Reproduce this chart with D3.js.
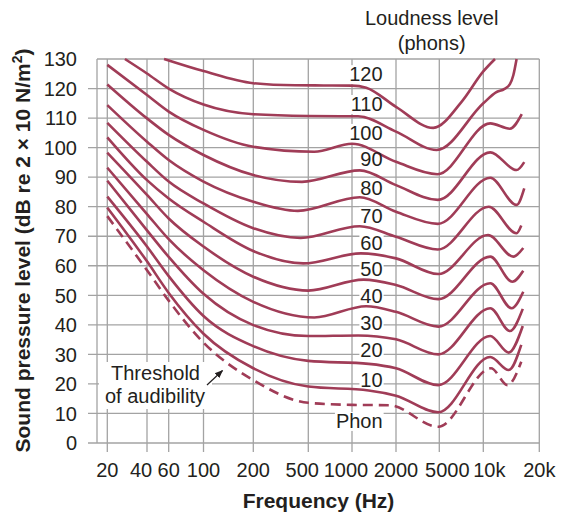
<!DOCTYPE html>
<html>
<head>
<meta charset="utf-8">
<script src="https://cdn.jsdelivr.net/npm/d3@7"></script>
<style>
  body { margin: 0; background: #fff; }
  text { font-family: "Liberation Sans", Arial, Helvetica, sans-serif; fill: #231f20; }
</style>
</head>
<body>
<svg width="567" height="515"></svg>
<script>
// axis ticks
var freqTicks = [20, 40, 60, 100, 200, 500, 1000, 2000, 5000, 10000, 20000];
var freqTickLabels = ['20', '40', '60', '100', '200', '500', '1000', '2000', '5000', '10k', '20k'];
var dbTicks = [0, 10, 20, 30, 40, 50, 60, 70, 80, 90, 100, 110, 120, 130];

// equal loudness contours, [frequency Hz, dB]
var phon120 = [[55,130],[100,125.9],[200,121.8],[400,121.1],[1000,121],[1250,120.3],[2000,113.8],[4400,106.7],[7100,115.5],[10000,125.8],[11560,130]];
var phon110 = [[27.2,130],[40,125.1],[60,120],[100,114.6],[200,111.3],[500,110.7],[1100,110.6],[2000,105.4],[4730,99.2],[10000,115],[11700,118.7],[13000,119.9],[13900,121.5],[14500,124.5],[15100,130]];
var phon100 = [[20,128],[40,117.8],[60,112.2],[100,106],[200,100.3],[550,98.6],[1000,101.3],[2000,95.2],[4800,91],[10900,108.2],[13900,106.4],[16100,111.3]];
var phon90 = [[20,121.4],[40,109.9],[60,104.3],[100,97.5],[200,90.7],[450,88.4],[1130,92.3],[2000,87.3],[4850,82.3],[10900,98.4],[15100,92.4],[16600,95.1]];
var phon80 = [[20,114.4],[40,102],[60,95.8],[100,88.5],[200,81.7],[420,78.6],[1130,83.2],[2000,78.3],[4850,74.2],[10900,89.8],[15100,80.6],[16600,86.2]];
var phon70 = [[20,108.4],[40,95.2],[60,88.5],[100,81.1],[200,72.7],[440,69.4],[1130,73.4],[2000,69.8],[4850,65.5],[10700,80],[15100,71],[16000,73.6]];
var phon60 = [[20,103.5],[40,89],[60,82.8],[100,74.9],[200,65],[460,60.8],[1150,64.2],[2000,62.5],[4900,57.2],[10600,70.4],[14500,63.1],[16400,66]];
var phon50 = [[20,98.3],[40,84],[60,76],[100,66.5],[200,56.3],[500,51.6],[1200,55.3],[2000,53.5],[4900,48.7],[10900,63.1],[14300,54.6],[16400,58.3]];
var phon40 = [[20,93.2],[40,77.5],[60,69],[100,58.5],[200,47.8],[550,42.5],[1250,46.3],[2000,44.4],[4900,39.4],[10900,54.1],[14200,45.6],[16400,51.2]];
var phon30 = [[20,88.8],[40,72],[60,63],[100,50.5],[200,39.9],[500,36.2],[1100,36.4],[2000,35.1],[4900,30],[10900,45.6],[13900,37.9],[16300,45.4]];
var phon20 = [[20,83.4],[40,66.5],[60,56.5],[100,43],[200,32.8],[500,27.8],[1300,26.8],[2000,25.3],[4900,19.6],[10900,36.2],[13700,30.6],[16300,39.6]];
var phon10 = [[20,79.7],[40,61.5],[60,50.8],[100,37],[200,25.3],[500,19.1],[1300,17.8],[2000,16],[4900,10.4],[10900,29.1],[13700,24.7],[16000,33.2]];
var threshold = [[20,76.8],[40,58.5],[60,48.2],[100,34],[200,21.3],[500,13.6],[1000,12.9],[1800,12.8],[4900,5.5],[11000,25.3],[13500,19.6],[16000,27.5]];

var contours = [phon120, phon110, phon100, phon90, phon80, phon70, phon60, phon50, phon40, phon30, phon20, phon10];

// curve labels and the dB level of their baselines
var curveLabels = ['120', '110', '100', '90', '80', '70', '60', '50', '40', '30', '20', '10', 'Phon'];
var curveLabelDb = [122.5, 112.4, 102.6, 93.8, 84, 74.5, 65.3, 56.5, 47.4, 38.3, 29.1, 19, 5.1];

var svg = d3.select('svg');
var lineColor = '#a03c57';
var gridColor = '#a3a3a3';

// the printed grid is not a true log grid, so map tick to tick
var x = d3.scaleLog()
    .domain(freqTicks)
    .range([107.3, 147, 168.7, 203.5, 253.3, 308.3, 352, 396, 439.3, 483.3, 539.3]);
var y = d3.scaleLinear().domain([0, 130]).range([443, 59]);
var left = 97;

var gridG = svg.append('g');
var bgG = svg.append('g');
var curveG = svg.append('g');
var textG = svg.append('g');

// horizontal grid (with tick stubs to the left)
gridG.selectAll('.hgrid')
    .data(dbTicks)
    .enter()
    .append('line')
    .attr('x1', function(d) { return d === 130 ? left : left - 9; })
    .attr('x2', x(20000))
    .attr('y1', function(d) { return y(d); })
    .attr('y2', function(d) { return y(d); })
    .attr('stroke', gridColor)
    .attr('stroke-width', 1.3);

// vertical grid (with tick stubs below)
gridG.selectAll('.vgrid')
    .data(freqTicks)
    .enter()
    .append('line')
    .attr('x1', function(d) { return x(d); })
    .attr('x2', function(d) { return x(d); })
    .attr('y1', y(130))
    .attr('y2', y(0) + 9)
    .attr('stroke', gridColor)
    .attr('stroke-width', 1.3);

gridG.append('line')
    .attr('x1', left).attr('x2', left)
    .attr('y1', y(130)).attr('y2', y(0))
    .attr('stroke', gridColor)
    .attr('stroke-width', 1.3);

// tick labels
textG.selectAll('.ylab')
    .data(dbTicks)
    .enter()
    .append('text')
    .attr('x', 77)
    .attr('y', function(d) { return y(d) + 7.2; })
    .attr('text-anchor', 'end')
    .style('font-size', '20px')
    .text(function(d) { return d; });

var labelNudge = { '40': -6, '500': -6, '1000': -6, '5000': 8, '10k': 6 };
textG.selectAll('.xlab')
    .data(freqTicks)
    .enter()
    .append('text')
    .attr('x', function(d, i) { return x(d) + (labelNudge[freqTickLabels[i]] || 0); })
    .attr('y', 477)
    .attr('text-anchor', 'middle')
    .style('font-size', '20px')
    .text(function(d, i) { return freqTickLabels[i]; });

// axis titles
textG.append('text')
    .attr('x', 318.5)
    .attr('y', 508)
    .attr('text-anchor', 'middle')
    .style('font-size', '21px')
    .style('font-weight', 'bold')
    .text('Frequency (Hz)');

var yTitle = textG.append('text')
    .attr('transform', 'translate(29.5,250.5) rotate(-90)')
    .attr('text-anchor', 'middle')
    .style('font-size', '21px')
    .style('font-weight', 'bold');
yTitle.append('tspan').text('Sound pressure level (dB re 2 \u00d7 10 N/m');
yTitle.append('tspan').attr('dy', -8).style('font-size', '14px').text('2');
yTitle.append('tspan').attr('dy', 8).text(')');

textG.append('text')
    .attr('x', 431.7).attr('y', 25)
    .attr('text-anchor', 'middle')
    .style('font-size', '20px')
    .text('Loudness level');
textG.append('text')
    .attr('x', 431.7).attr('y', 50)
    .attr('text-anchor', 'middle')
    .style('font-size', '20px')
    .text('(phons)');

// curves
var line = d3.line()
    .x(function(d) { return x(d[0]); })
    .y(function(d) { return y(d[1]); })
    .curve(d3.curveMonotoneX);

curveG.selectAll('.contour')
    .data(contours)
    .enter()
    .append('path')
    .attr('class', 'contour')
    .attr('d', line)
    .attr('fill', 'none')
    .attr('stroke', lineColor)
    .attr('stroke-width', 2.6);

curveG.append('path')
    .datum(threshold)
    .attr('d', line)
    .attr('fill', 'none')
    .attr('stroke', lineColor)
    .attr('stroke-width', 2.6)
    .attr('stroke-dasharray', '10,6');

// curve labels on white patches
textG.selectAll('.clab')
    .data(curveLabels)
    .enter()
    .append('text')
    .attr('class', 'clab')
    .attr('x', x(1620))
    .attr('y', function(d, i) { return y(curveLabelDb[i]); })
    .attr('text-anchor', 'end')
    .style('font-size', '20px')
    .text(function(d) { return d; })
    .each(function() {
        var b = this.getBBox();
        bgG.append('rect')
            .attr('x', b.x - 1).attr('y', b.y + 2)
            .attr('width', b.width + 2).attr('height', b.height - 3)
            .attr('fill', '#fff');
    });

// threshold annotation
bgG.append('rect')
    .attr('x', 99).attr('y', 362)
    .attr('width', 113).attr('height', 47)
    .attr('fill', '#fff');
textG.append('text')
    .attr('x', 155.5).attr('y', 380)
    .attr('text-anchor', 'middle')
    .style('font-size', '20px')
    .text('Threshold');
textG.append('text')
    .attr('x', 155).attr('y', 403.3)
    .attr('text-anchor', 'middle')
    .style('font-size', '20px')
    .text('of audibility');

svg.append('defs').append('marker')
    .attr('id', 'arrow')
    .attr('viewBox', '0 0 10 10')
    .attr('refX', 9).attr('refY', 5)
    .attr('markerWidth', 7).attr('markerHeight', 7)
    .attr('orient', 'auto')
    .append('path')
    .attr('d', 'M0,1 L10,5 L0,9 Z')
    .attr('fill', '#231f20');

textG.append('line')
    .attr('x1', 207).attr('y1', 385)
    .attr('x2', 222.5).attr('y2', 370.5)
    .attr('stroke', '#231f20')
    .attr('stroke-width', 1.2)
    .attr('marker-end', 'url(#arrow)');
</script>
</body>
</html>
